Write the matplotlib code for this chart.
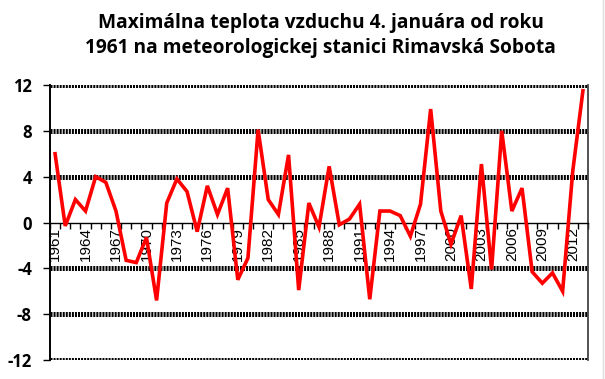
import numpy as np
import matplotlib
matplotlib.use('Agg')
from matplotlib import pyplot as plt
from matplotlib.lines import Line2D

years = list(range(1961, 2014))
tmax = [6.0, -0.3, 2.0, 1.0, 4.0, 3.5, 1.0, -3.3, -3.5, -1.3,
        -6.8, 1.7, 3.8, 2.7, -0.8, 3.2, 0.7, 3.0, -5.0, -3.1,
        8.1, 2.0, 0.7, 5.9, -5.9, 1.7, -0.4, 4.9, -0.2, 0.3,
        1.6, -6.7, 1.0, 1.0, 0.6, -1.2, 1.6, 9.9, 1.0, -1.9,
        0.6, -5.8, 5.1, -4.1, 8.0, 1.0, 3.0, -4.3, -5.3, -4.4,
        -6.0, 4.5, 11.5]
y_ticks = [-12, -8, -4, 0, 4, 8, 12]
title = 'Maximálna teplota vzduchu 4. januára od roku\n1961 na meteorologickej stanici Rimavská Sobota'

plt.rcParams['lines.scale_dashes'] = False

fig = plt.figure(figsize=(6.05, 3.79), dpi=100)
ax = fig.add_axes([50 / 605, 1 - 360 / 379, 538 / 605, 275 / 379])

x = np.arange(len(years))
ax.plot(x, tmax, color='#ff0000', lw=2.6, solid_joinstyle='miter', zorder=5)

ax.set_xlim(-0.5, len(years) - 0.5)
ax.set_ylim(-12, 12)

# dense black dashed gridlines like the excel original, none at zero
for v in y_ticks:
    if v == 0:
        continue
    ax.axhline(v, color='black', lw=3.6, dashes=(1.45, 0.75), zorder=2)

ax.set_yticks(y_ticks)
ax.set_yticklabels([str(v) for v in y_ticks], fontsize=12, fontweight='bold',
                   family='Open Sans')
ax.tick_params(axis='y', length=5, width=1, pad=8)

ax.spines['bottom'].set_position(('data', 0))
ax.spines['top'].set_visible(False)
ax.spines['left'].set_linewidth(1.4)
ax.spines['right'].set_color('#333333')
ax.spines['right'].set_linewidth(1.2)
ax.spines['bottom'].set_linewidth(1)

lab_idx = x[::3]
ax.set_xticks(lab_idx)
ax.set_xticklabels([str(years[i]) for i in lab_idx], rotation=90, fontsize=11,
                   family='Liberation Sans', va='top', ha='center')
ax.tick_params(axis='x', which='major', length=0, pad=3)
ax.set_xticks(np.arange(-0.5, len(years), 1), minor=True)
ax.tick_params(axis='x', which='minor', length=4, width=1, direction='out')

fig.text(0.53, 0.965, title, ha='center', va='top', fontsize=13.8,
         fontweight='bold', family='Open Sans', linespacing=1.3)

fig.add_artist(Line2D([602.5 / 605, 602.5 / 605], [0, 1], color='#dddddd', lw=1))

fig.savefig('out.png', dpi=100)
